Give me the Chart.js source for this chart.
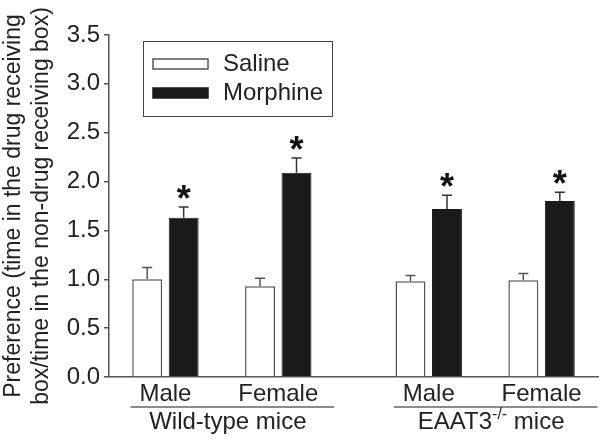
<!DOCTYPE html>
<html>
<head>
<meta charset="utf-8">
<script src="https://cdn.jsdelivr.net/npm/chart.js@4.4.1/dist/chart.umd.min.js"></script>
<style>
  html, body { margin: 0; padding: 0; background: #fff; }
  #wrap { width: 600px; height: 443px; }
</style>
</head>
<body>
<div id="wrap"><canvas id="grafico"></canvas></div>
<script>
const FONT = "'Liberation Sans', Arial, sans-serif";

// data
const sexes = ["Male", "Female", "Male", "Female"];
const genotypes = ["Wild-type mice", "EAAT3"];
const salineMean = [1.00, 0.93, 0.98, 0.99];
const salineSem = [0.12, 0.08, 0.06, 0.07];
const morphineMean = [1.63, 2.09, 1.72, 1.80];
const morphineSem = [0.11, 0.15, 0.14, 0.09];
const significant = [true, true, true, true];
const yTicks = [0, 0.5, 1, 1.5, 2, 2.5, 3, 3.5];

// category slots on the x axis (gap between genotypes)
const nSlots = 13;
const slotOf = [1, 4, 8, 11];

const labels = Array(nSlots).fill("");
const salineData = Array(nSlots).fill(null);
const morphineData = Array(nSlots).fill(null);
slotOf.forEach((s, i) => {
  labels[s] = sexes[i];
  salineData[s] = salineMean[i];
  morphineData[s] = morphineMean[i];
});

const extras = {
  id: "extras",
  afterDatasetsDraw(chart) {
    const ctx = chart.ctx;
    const y = chart.scales.y;
    const sets = [
      { meta: chart.getDatasetMeta(0), mean: salineMean, sem: salineSem, color: "#555" },
      { meta: chart.getDatasetMeta(1), mean: morphineMean, sem: morphineSem, color: "#333" },
    ];
    ctx.save();
    ctx.lineWidth = 1.5;
    sets.forEach((s, k) => {
      slotOf.forEach((slot, i) => {
        const bar = s.meta.data[slot];
        const top = y.getPixelForValue(s.mean[i]);
        const cap = y.getPixelForValue(s.mean[i] + s.sem[i]);
        ctx.strokeStyle = s.color;
        ctx.beginPath();
        ctx.moveTo(bar.x, top);
        ctx.lineTo(bar.x, cap);
        ctx.moveTo(bar.x - 5, cap);
        ctx.lineTo(bar.x + 5, cap);
        ctx.stroke();
        if (k === 1 && significant[i]) {
          ctx.fillStyle = "#111";
          ctx.font = "bold 36px " + FONT;
          ctx.textAlign = "center";
          ctx.textBaseline = "alphabetic";
          ctx.fillText("*", bar.x, cap + 4);
        }
      });
    });
    ctx.restore();
  },
  afterDraw(chart) {
    const ctx = chart.ctx;
    const x = chart.scales.x;
    const area = chart.chartArea;
    ctx.save();

    // legend box
    const lx = area.left + 34, ly = area.top + 6;
    ctx.strokeStyle = "#444";
    ctx.lineWidth = 1;
    ctx.strokeRect(lx + 0.5, ly + 0.5, 189, 75);
    chart.data.datasets.forEach((ds, i) => {
      const sy = ly + 18 + i * 29;
      ctx.fillStyle = ds.backgroundColor;
      ctx.fillRect(lx + 10, sy, 55, 10);
      ctx.strokeStyle = ds.borderColor;
      ctx.lineWidth = 1.5;
      ctx.strokeRect(lx + 10, sy, 55, 10);
      ctx.fillStyle = "#222";
      ctx.font = "24px " + FONT;
      ctx.textAlign = "left";
      ctx.textBaseline = "middle";
      ctx.fillText(ds.label, lx + 80, sy + 5);
    });

    // genotype underlines and names
    const groups = [[slotOf[0], slotOf[1]], [slotOf[2], slotOf[3]]];
    const lineY = area.bottom + 30;
    groups.forEach((g, i) => {
      const x0 = x.getPixelForValue(g[0]) - 35;
      const x1 = x.getPixelForValue(g[1]) + 56;
      ctx.strokeStyle = "#666";
      ctx.lineWidth = 1.5;
      ctx.beginPath();
      ctx.moveTo(x0, lineY);
      ctx.lineTo(x1, lineY);
      ctx.stroke();
      const cx = (x.getPixelForValue(g[0]) + x.getPixelForValue(g[1])) / 2 + 6;
      const base = area.bottom + 52;
      ctx.fillStyle = "#222";
      ctx.textBaseline = "alphabetic";
      ctx.textAlign = "left";
      if (i === 0) {
        ctx.font = "24px " + FONT;
        const w = ctx.measureText(genotypes[0]).width;
        ctx.fillText(genotypes[0], cx - w / 2, base);
      } else {
        ctx.font = "24px " + FONT;
        const w1 = ctx.measureText(genotypes[1]).width;
        const w3 = ctx.measureText(" mice").width;
        ctx.font = "16px " + FONT;
        const w2 = ctx.measureText("-/-").width;
        let px = cx - (w1 + w2 + w3) / 2;
        ctx.font = "24px " + FONT;
        ctx.fillText(genotypes[1], px, base);
        px += w1;
        ctx.font = "16px " + FONT;
        ctx.fillText("-/-", px, base - 10);
        px += w2;
        ctx.font = "24px " + FONT;
        ctx.fillText(" mice", px, base);
      }
    });
    ctx.restore();
  },
};

new Chart(document.getElementById("grafico"), {
  type: "bar",
  data: {
    labels: labels,
    datasets: [
      {
        label: "Saline",
        data: salineData,
        backgroundColor: "#ffffff",
        borderColor: "#555555",
        borderWidth: 1.5,
      },
      {
        label: "Morphine",
        data: morphineData,
        backgroundColor: "#1a1a1a",
        borderColor: "#1a1a1a",
        borderWidth: 1,
      },
    ],
  },
  options: {
    responsive: true,
    maintainAspectRatio: false,
    animation: false,
    categoryPercentage: 1.94,
    barPercentage: 0.82,
    layout: { padding: { top: 35, right: 2, bottom: 0, left: 0 } },
    plugins: { legend: { display: false }, tooltip: { enabled: false } },
    scales: {
      x: {
        grid: { display: false },
        border: { color: "#555", width: 1.5 },
        ticks: {
          autoSkip: false,
          maxRotation: 0,
          padding: -5,
          color: "#222",
          font: { family: FONT, size: 24 },
        },
        afterFit: (scale) => { scale.height = 66; },
      },
      y: {
        min: 0,
        max: 3.5,
        afterBuildTicks: (scale) => { scale.ticks = yTicks.map((v) => ({ value: v })); },
        grid: { drawOnChartArea: false, tickLength: 5, color: "#555", lineWidth: 1.5 },
        border: { color: "#555", width: 1.5 },
        ticks: {
          padding: 4,
          color: "#222",
          font: { family: FONT, size: 24 },
          callback: (v) => Number(v).toFixed(1),
        },
        title: {
          display: true,
          text: ["Preference (time in the drug receiving", "box/time in the non-drug receiving box)"],
          color: "#222",
          font: { family: FONT, size: 23 },
          padding: 0,
        },
        afterFit: (scale) => { scale.width = 109; },
      },
    },
  },
  plugins: [extras],
});
</script>
</body>
</html>
